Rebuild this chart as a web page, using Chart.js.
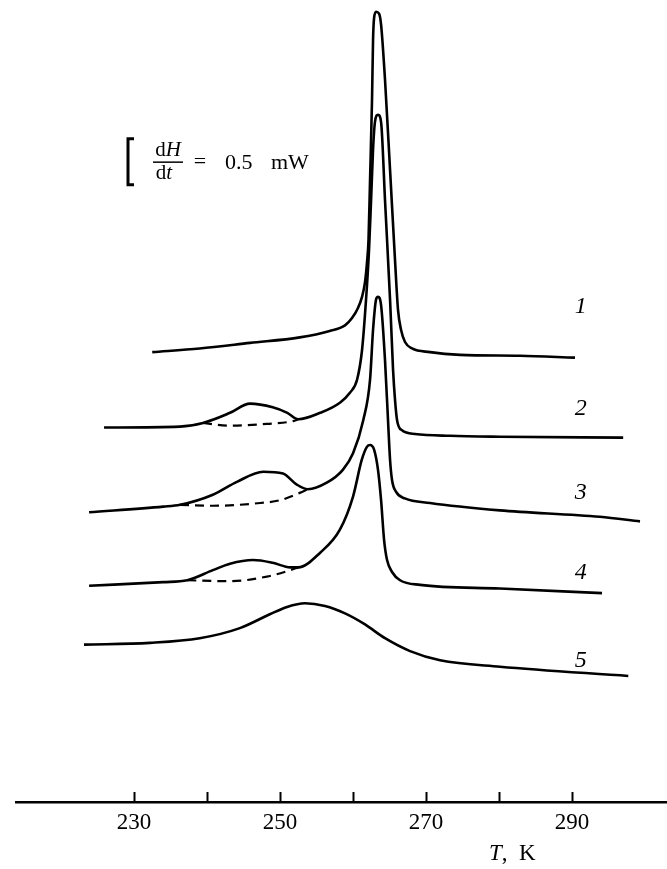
<!DOCTYPE html>
<html>
<head>
<meta charset="utf-8">
<script src="https://cdn.jsdelivr.net/npm/chart.js@4.4.1/dist/chart.umd.min.js"></script>
<style>
  html, body { margin: 0; padding: 0; background: #fff; }
</style>
</head>
<body>
<canvas id="dsc" width="667" height="869"></canvas>
<script>
// DSC heating curves: temperature (K) and heat flow (mW), curves shifted vertically
const curveNames = ["1", "2", "3", "4", "5"];

const t1 = [232.5, 239.0, 245.9, 252.7, 256.8, 258.9, 259.86, 260.68, 261.23, 261.64, 261.92, 262.12, 262.33, 262.6, 262.74, 262.88, 263.15, 263.56, 263.84, 264.38, 265.07, 265.75, 266.16, 266.58, 267.12, 268.08, 270.55, 274.66, 282.88, 290.4];
const h1 = [4.89, 4.93, 4.99, 5.05, 5.12, 5.18, 5.26, 5.37, 5.49, 5.65, 5.87, 6.11, 6.76, 7.63, 8.28, 8.52, 8.59, 8.57, 8.45, 7.85, 6.87, 5.89, 5.35, 5.13, 5.00, 4.93, 4.89, 4.86, 4.85, 4.83];

const t2 = [225.9, 236.3, 239.45, 243.15, 245.9, 249.0, 251.0, 252.5, 255.5, 258.2, 259.6, 260.55, 261.23, 261.78, 262.19, 262.47, 262.74, 263.0, 263.42, 263.84, 264.38, 265.07, 265.48, 265.75, 266.03, 266.71, 268.49, 273.3, 280.1, 297.0];
const h2 = [4.07, 4.08, 4.12, 4.23, 4.33, 4.29, 4.23, 4.16, 4.23, 4.34, 4.45, 4.59, 4.91, 5.46, 6.00, 6.54, 7.09, 7.39, 7.47, 7.39, 6.54, 5.46, 4.70, 4.37, 4.15, 4.04, 4.00, 3.98, 3.97, 3.96];
const t2base = [239.45, 243.15, 248.2, 251.8, 252.5];
const h2base = [4.12, 4.09, 4.11, 4.14, 4.16];

const t3 = [223.85, 234.0, 236.3, 240.8, 244.1, 247.7, 250.4, 252.3, 253.8, 256.4, 258.6, 260.0, 261.4, 262.33, 262.74, 263.15, 263.42, 263.84, 264.38, 264.79, 265.07, 265.34, 265.9, 267.1, 270.55, 280.1, 293.8, 299.3];
const h3 = [3.15, 3.21, 3.23, 3.34, 3.48, 3.59, 3.57, 3.45, 3.40, 3.47, 3.61, 3.79, 4.15, 4.59, 5.13, 5.46, 5.49, 5.40, 4.80, 4.15, 3.72, 3.50, 3.37, 3.30, 3.25, 3.17, 3.10, 3.05];
const t3base = [236.3, 240.8, 247.3, 250.0, 252.7, 253.8];
const h3base = [3.23, 3.22, 3.25, 3.28, 3.36, 3.40];

const t4 = [223.85, 234.0, 237.3, 240.8, 243.15, 246.3, 249.0, 251.4, 252.5, 255.5, 258.2, 260.0, 261.2, 261.9, 262.33, 262.88, 263.42, 263.84, 264.25, 264.66, 265.34, 266.44, 269.2, 280.1, 294.1];
const h4 = [2.35, 2.39, 2.41, 2.52, 2.59, 2.63, 2.60, 2.55, 2.55, 2.71, 2.96, 3.32, 3.72, 3.86, 3.88, 3.83, 3.61, 3.28, 2.85, 2.63, 2.50, 2.41, 2.36, 2.32, 2.27];
const t4base = [237.3, 243.15, 248.2, 251.4, 252.5];
const h4base = [2.41, 2.40, 2.45, 2.52, 2.55];

const t5 = [223.15, 232.2, 239.0, 244.5, 248.6, 250.96, 253.42, 256.16, 258.9, 261.64, 264.38, 267.81, 271.92, 280.14, 297.7];
const h5 = [1.71, 1.73, 1.78, 1.89, 2.04, 2.12, 2.16, 2.13, 2.05, 1.93, 1.78, 1.64, 1.54, 1.47, 1.37];

const tickValues = [230, 240, 250, 260, 270, 280, 290];
const tickLabels = ["230", "", "250", "", "270", "", "290"];

const serif = '"Liberation Serif", "DejaVu Serif", serif';

function pts(ts, hs) {
  return ts.map((t, i) => ({ x: t, y: hs[i] }));
}

function solid(ts, hs) {
  return {
    data: pts(ts, hs),
    borderColor: "#000",
    borderWidth: 2.6,
    pointRadius: 0,
    fill: false,
    cubicInterpolationMode: "monotone",
  };
}

function dashed(ts, hs) {
  return {
    data: pts(ts, hs),
    borderColor: "#000",
    borderWidth: 2.2,
    borderDash: [9, 6],
    pointRadius: 0,
    fill: false,
    cubicInterpolationMode: "monotone",
  };
}

// draw a run of text pieces, some italic, centred on cx
function mixedText(ctx, parts, cx, cy, size) {
  let widths = parts.map(([s, it]) => {
    ctx.font = (it ? "italic " : "") + size + "px " + serif;
    return ctx.measureText(s).width;
  });
  let x = cx - widths.reduce((a, b) => a + b, 0) / 2;
  ctx.textAlign = "left";
  ctx.textBaseline = "middle";
  parts.forEach(([s, it], i) => {
    ctx.font = (it ? "italic " : "") + size + "px " + serif;
    ctx.fillText(s, x, cy);
    x += widths[i];
  });
}

const extras = {
  id: "extras",
  afterDraw(chart) {
    const ctx = chart.ctx;
    const xs = chart.scales.x;
    const ys = chart.scales.y;
    const bottom = chart.chartArea.bottom;
    ctx.save();
    ctx.strokeStyle = "#000";
    ctx.fillStyle = "#000";

    // upward tick marks on the axis
    ctx.lineWidth = 2;
    tickValues.forEach((v) => {
      const px = Math.round(xs.getPixelForValue(v)) + 0.5;
      ctx.beginPath();
      ctx.moveTo(px, bottom);
      ctx.lineTo(px, bottom - 10);
      ctx.stroke();
    });

    // 0.5 mW scale bracket
    const bx = xs.getPixelForValue(229.18);
    const bTop = ys.getPixelForValue(7.21);
    const bBot = ys.getPixelForValue(6.71);
    ctx.lineWidth = 3;
    ctx.beginPath();
    ctx.moveTo(bx + 6, bTop);
    ctx.lineTo(bx, bTop);
    ctx.lineTo(bx, bBot);
    ctx.lineTo(bx + 6, bBot);
    ctx.stroke();

    const mid = (bTop + bBot) / 2;
    mixedText(ctx, [["d", false], ["H", true]], bx + 40, mid - 11, 21);
    ctx.lineWidth = 1.5;
    ctx.beginPath();
    ctx.moveTo(bx + 25, mid + 0.5);
    ctx.lineTo(bx + 55, mid + 0.5);
    ctx.stroke();
    mixedText(ctx, [["d", false], ["t", true]], bx + 36, mid + 12, 21);
    mixedText(ctx, [["=", false]], bx + 72, mid + 1, 22);
    ctx.font = "22px " + serif;
    ctx.textAlign = "left";
    ctx.fillText("0.5", bx + 97, mid + 2);
    ctx.fillText("mW", bx + 143, mid + 2);

    // curve numbers
    const labelY = [5.38, 4.28, 3.36, 2.49, 1.54];
    curveNames.forEach((n, i) => {
      mixedText(ctx, [[n, true]], xs.getPixelForValue(291.2), ys.getPixelForValue(labelY[i]), 24);
    });

    // axis title
    mixedText(ctx, [["T", true], [",  K", false]], xs.getPixelForValue(281.8), bottom + 52, 23);
    ctx.restore();
  },
};

new Chart(document.getElementById("dsc"), {
  type: "line",
  data: {
    datasets: [
      solid(t1, h1),
      solid(t2, h2),
      dashed(t2base, h2base),
      solid(t3, h3),
      dashed(t3base, h3base),
      solid(t4, h4),
      dashed(t4base, h4base),
      solid(t5, h5),
    ],
  },
  options: {
    responsive: false,
    animation: false,
    devicePixelRatio: 1,
    layout: { padding: { left: 16, right: 0, top: 0, bottom: 0 } },
    plugins: { legend: { display: false }, tooltip: { enabled: false } },
    scales: {
      x: {
        type: "linear",
        min: 213.84,
        max: 303.0,
        grid: { display: false, drawTicks: false },
        border: { display: true, color: "#000", width: 2.5 },
        afterBuildTicks: (scale) => {
          scale.ticks = tickValues.map((v) => ({ value: v }));
        },
        afterFit: (scale) => {
          scale.height = 67;
        },
        ticks: {
          padding: 7,
          color: "#000",
          font: { family: serif, size: 23 },
          maxRotation: 0,
          autoSkip: false,
          callback: (v, i) => tickLabels[i],
        },
      },
      y: { display: false, min: 0, max: 8.717 },
    },
  },
  plugins: [extras],
});
</script>
</body>
</html>
